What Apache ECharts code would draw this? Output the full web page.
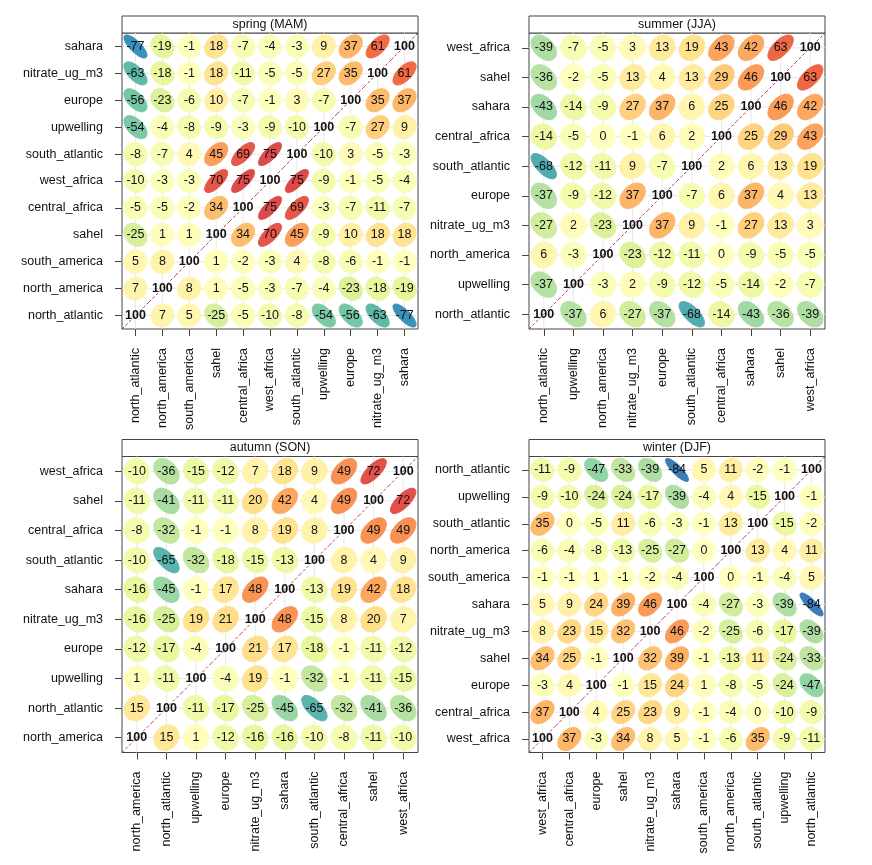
<!DOCTYPE html>
<html>
<head>
<meta charset="utf-8">
<script src="https://cdn.jsdelivr.net/npm/echarts@6/dist/echarts.min.js"></script>
<style>
  html, body { margin: 0; padding: 0; background: #fff; }
  #chart { width: 872px; height: 865px; }
</style>
</head>
<body>
<div id="chart"></div>
<script>
// correlation (x100) per season; rows/cols follow the vars order, first var = bottom row / left column
var panelTitles = ['spring (MAM)', 'summer (JJA)', 'autumn (SON)', 'winter (DJF)'];

var springVars = ['north_atlantic','north_america','south_america','sahel','central_africa','west_africa','south_atlantic','upwelling','europe','nitrate_ug_m3','sahara'];
var springCorr = [
  [100,   7,   5, -25,  -5, -10,  -8, -54, -56, -63, -77],
  [  7, 100,   8,   1,  -5,  -3,  -7,  -4, -23, -18, -19],
  [  5,   8, 100,   1,  -2,  -3,   4,  -8,  -6,  -1,  -1],
  [-25,   1,   1, 100,  34,  70,  45,  -9,  10,  18,  18],
  [ -5,  -5,  -2,  34, 100,  75,  69,  -3,  -7, -11,  -7],
  [-10,  -3,  -3,  70,  75, 100,  75,  -9,  -1,  -5,  -4],
  [ -8,  -7,   4,  45,  69,  75, 100, -10,   3,  -5,  -3],
  [-54,  -4,  -8,  -9,  -3,  -9, -10, 100,  -7,  27,   9],
  [-56, -23,  -6,  10,  -7,  -1,   3,  -7, 100,  35,  37],
  [-63, -18,  -1,  18, -11,  -5,  -5,  27,  35, 100,  61],
  [-77, -19,  -1,  18,  -7,  -4,  -3,   9,  37,  61, 100]
];

var summerVars = ['north_atlantic','upwelling','north_america','nitrate_ug_m3','europe','south_atlantic','central_africa','sahara','sahel','west_africa'];
var summerCorr = [
  [100, -37,   6, -27, -37, -68, -14, -43, -36, -39],
  [-37, 100,  -3,   2,  -9, -12,  -5, -14,  -2,  -7],
  [  6,  -3, 100, -23, -12, -11,   0,  -9,  -5,  -5],
  [-27,   2, -23, 100,  37,   9,  -1,  27,  13,   3],
  [-37,  -9, -12,  37, 100,  -7,   6,  37,   4,  13],
  [-68, -12, -11,   9,  -7, 100,   2,   6,  13,  19],
  [-14,  -5,   0,  -1,   6,   2, 100,  25,  29,  43],
  [-43, -14,  -9,  27,  37,   6,  25, 100,  46,  42],
  [-36,  -2,  -5,  13,   4,  13,  29,  46, 100,  63],
  [-39,  -7,  -5,   3,  13,  19,  43,  42,  63, 100]
];

var autumnVars = ['north_america','north_atlantic','upwelling','europe','nitrate_ug_m3','sahara','south_atlantic','central_africa','sahel','west_africa'];
var autumnCorr = [
  [100,  15,   1, -12, -16, -16, -10,  -8, -11, -10],
  [ 15, 100, -11, -17, -25, -45, -65, -32, -41, -36],
  [  1, -11, 100,  -4,  19,  -1, -32,  -1, -11, -15],
  [-12, -17,  -4, 100,  21,  17, -18,  -1, -11, -12],
  [-16, -25,  19,  21, 100,  48, -15,   8,  20,   7],
  [-16, -45,  -1,  17,  48, 100, -13,  19,  42,  18],
  [-10, -65, -32, -18, -15, -13, 100,   8,   4,   9],
  [ -8, -32,  -1,  -1,   8,  19,   8, 100,  49,  49],
  [-11, -41, -11, -11,  20,  42,   4,  49, 100,  72],
  [-10, -36, -15, -12,   7,  18,   9,  49,  72, 100]
];

var winterVars = ['west_africa','central_africa','europe','sahel','nitrate_ug_m3','sahara','south_america','north_america','south_atlantic','upwelling','north_atlantic'];
var winterCorr = [
  [100,  37,  -3,  34,   8,   5,  -1,  -6,  35,  -9, -11],
  [ 37, 100,   4,  25,  23,   9,  -1,  -4,   0, -10,  -9],
  [ -3,   4, 100,  -1,  15,  24,   1,  -8,  -5, -24, -47],
  [ 34,  25,  -1, 100,  32,  39,  -1, -13,  11, -24, -33],
  [  8,  23,  15,  32, 100,  46,  -2, -25,  -6, -17, -39],
  [  5,   9,  24,  39,  46, 100,  -4, -27,  -3, -39, -84],
  [ -1,  -1,   1,  -1,  -2,  -4, 100,   0,  -1,  -4,   5],
  [ -6,  -4,  -8, -13, -25, -27,   0, 100,  13,   4,  11],
  [ 35,   0,  -5,  11,  -6,  -3,  -1,  13, 100, -15,  -2],
  [ -9, -10, -24, -24, -17, -39,  -4,   4, -15, 100,  -1],
  [-11,  -9, -47, -33, -39, -84,   5,  11,  -2,  -1, 100]
];

var spectral = ['#5E4FA2','#3288BD','#66C2A5','#ABDDA4','#E6F598','#FFFFBF','#FEE08B','#FDAE61','#F46D43','#D53E4F','#9E0142'];

var panels = [
  { vars: springVars, corr: springCorr, left: 122, top: 33 },
  { vars: summerVars, corr: summerCorr, left: 529, top: 33 },
  { vars: autumnVars, corr: autumnCorr, left: 122, top: 456.5 },
  { vars: winterVars, corr: winterCorr, left: 529, top: 456.5 }
];
var SIZE = 296, STRIP = 17;
var FONT = '"Liberation Sans", Arial, Helvetica, sans-serif';
var ink = '#111';
var frame = '#444';

// ellipse radius in cell units: ellipse(r, scale = .2, level = .9)
var ER = Math.sqrt(-2 * Math.log(0.1)) * 0.2;

function renderCell(params, api) {
  var xi = api.value(0), yi = api.value(1), v = api.value(2);
  var c = api.coord([xi, yi]);
  var s = api.size([1, 1]);
  var w = s[0], h = s[1];
  var col = api.visual('color');
  var kids = [
    { type: 'line', shape: { x1: c[0] - w / 2, y1: c[1], x2: c[0] + w / 2, y2: c[1] }, style: { stroke: '#e8e8e8', lineWidth: 1 } },
    { type: 'line', shape: { x1: c[0], y1: c[1] - h / 2, x2: c[0], y2: c[1] + h / 2 }, style: { stroke: '#e8e8e8', lineWidth: 1 } }
  ];
  if (xi === yi) {
    // r = 1: the ellipse collapses onto the diagonal
    kids.push({
      type: 'line',
      shape: { x1: c[0] - w / 2, y1: c[1] + h / 2, x2: c[0] + w / 2, y2: c[1] - h / 2 },
      style: { stroke: col, opacity: 0.75, lineWidth: 1, lineDash: [3, 2] }
    });
  } else {
    var r = v / 100, d = Math.acos(r), pts = [];
    for (var k = 0; k < 50; k++) {
      var a = 2 * Math.PI * k / 50;
      pts.push([c[0] + ER * Math.cos(a + d / 2) * w, c[1] - ER * Math.cos(a - d / 2) * h]);
    }
    kids.push({ type: 'polygon', shape: { points: pts }, style: { fill: col, stroke: col, lineWidth: 1 } });
  }
  kids.push({
    type: 'text',
    style: {
      x: c[0], y: c[1], text: String(v), fill: ink,
      align: 'center', verticalAlign: 'middle',
      fontFamily: FONT, fontSize: 12.5, fontWeight: xi === yi ? 'bold' : 'normal'
    }
  });
  return { type: 'group', children: kids };
}

var grids = [], xAxes = [], yAxes = [], series = [], graphics = [];
panels.forEach(function (p, i) {
  grids.push({ left: p.left, top: p.top, width: SIZE, height: SIZE, show: true, borderColor: frame, borderWidth: 1, backgroundColor: 'transparent' });
  var axisCommon = {
    type: 'category',
    gridIndex: i,
    data: p.vars,
    axisLine: { show: false },
    axisTick: { show: true, alignWithLabel: true, length: 7, lineStyle: { color: frame } },
    splitLine: { show: false },
    axisLabel: { interval: 0, color: ink, fontFamily: FONT, fontSize: 12.5, margin: 19 }
  };
  xAxes.push(Object.assign({}, axisCommon, { position: 'bottom', axisLabel: Object.assign({}, axisCommon.axisLabel, { rotate: 90 }) }));
  yAxes.push(Object.assign({}, axisCommon, { position: 'left' }));
  var data = [];
  p.corr.forEach(function (row, yi) {
    row.forEach(function (v, xi) { data.push([xi, yi, v]); });
  });
  series.push({ type: 'custom', xAxisIndex: i, yAxisIndex: i, renderItem: renderCell, data: data, silent: true });
  graphics.push({
    type: 'rect', shape: { x: p.left, y: p.top - STRIP, width: SIZE, height: STRIP },
    style: { fill: '#fff', stroke: frame, lineWidth: 1 }
  });
  graphics.push({
    type: 'text', x: p.left + SIZE / 2, y: p.top - STRIP / 2,
    style: { text: panelTitles[i], fill: ink, align: 'center', verticalAlign: 'middle', fontFamily: FONT, fontSize: 12.5 }
  });
});

var chart = echarts.init(document.getElementById('chart'), null, { renderer: 'canvas' });
chart.setOption({
  animation: false,
  backgroundColor: '#fff',
  grid: grids,
  xAxis: xAxes,
  yAxis: yAxes,
  visualMap: {
    type: 'continuous', show: false, min: -100, max: 100, dimension: 2,
    inRange: { color: spectral }
  },
  graphic: graphics,
  series: series
});
</script>
</body>
</html>
